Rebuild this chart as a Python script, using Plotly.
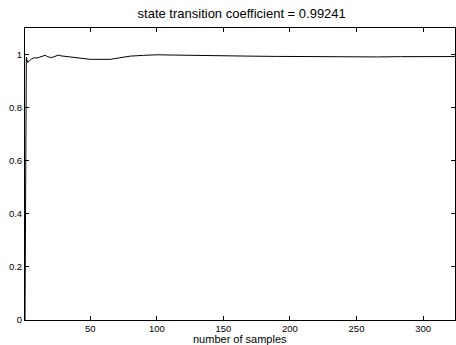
import plotly.graph_objects as go

# sample index and estimated coefficient
samples = [1, 2, 3, 4, 6, 8, 10, 12, 14, 16, 18, 20, 22, 24, 26, 28, 31, 34, 38, 42, 46,
           50, 55, 60, 65, 70, 75, 80, 90, 100, 114, 133, 150, 170, 190, 208, 230,
           245, 265, 283, 300, 321, 324]
values = [0.0, 0.99, 0.97, 0.975, 0.984, 0.988, 0.987, 0.99, 0.993, 0.997, 0.992, 0.989,
          0.99, 0.994, 0.998, 0.995, 0.993, 0.99, 0.988, 0.986, 0.983, 0.982, 0.982, 0.981,
          0.982, 0.986, 0.99, 0.994, 0.997, 0.999, 0.998, 0.996, 0.995, 0.994, 0.993,
          0.992, 0.992, 0.992, 0.991, 0.992, 0.993, 0.994, 0.9924]

x_ticks = [50, 100, 150, 200, 250, 300]
y_ticks = [0, 0.2, 0.4, 0.6, 0.8, 1]
y_tick_text = ["0", "0.2", "0.4", "0.6", "0.8", "1"]

fig = go.Figure()
fig.add_trace(go.Scatter(x=samples, y=values, mode="lines",
                         line=dict(color="black", width=1), showlegend=False))

axis_common = dict(showgrid=False, zeroline=False, showline=True, linecolor="black",
                   linewidth=1, mirror="ticks", ticks="inside", ticklen=4,
                   tickcolor="black", tickfont=dict(size=9.5, color="black"))

fig.update_layout(
    width=456, height=345,
    margin=dict(l=25, r=1, t=28, b=25),
    paper_bgcolor="white", plot_bgcolor="white",
    font=dict(family="Liberation Sans, Arial, sans-serif", color="black"),
    title=dict(text="state transition coefficient = 0.99241", x=0.53, xanchor="center",
               y=0.962, yanchor="middle", font=dict(size=13)),
    xaxis=dict(range=[1, 324], tickvals=x_ticks, **axis_common),
    yaxis=dict(range=[0, 1.1], tickvals=y_ticks, ticktext=y_tick_text, **axis_common),
    annotations=[dict(text="number of samples", xref="paper", yref="paper",
                      x=0.5, y=-0.066, xanchor="center", yanchor="middle",
                      showarrow=False, font=dict(size=11))],
)

fig.write_html("out.html", config={"displayModeBar": False},
               post_script="document.body.style.margin='0';")
